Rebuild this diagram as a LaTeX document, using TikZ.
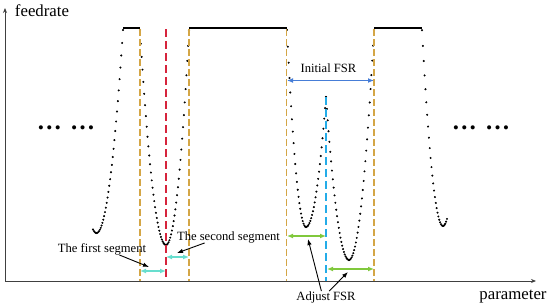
\documentclass[tikz,border=0pt]{standalone}
\usepackage{fontspec}
\setmainfont{Liberation Serif}
\usepackage{tikz}
\usetikzlibrary{arrows.meta}
\definecolor{fsrgold}{RGB}{212,166,70}
\definecolor{midred}{RGB}{214,36,60}
\definecolor{adjcyan}{RGB}{36,172,232}
\definecolor{initblue}{RGB}{70,125,215}
\definecolor{segaqua}{RGB}{104,222,206}
\definecolor{adjgreen}{RGB}{128,200,60}
\tikzstyle{axis} = [draw=black!75, line width=0.9pt, -{Stealth[length=5pt,width=4pt]}]
\tikzstyle{axislbl} = [inner sep=0pt, font=\fontsize{16.8}{18}\selectfont]
\tikzstyle{lbl} = [inner sep=0pt, font=\fontsize{12.6}{14}\selectfont]
\tikzstyle{more} = [inner sep=0pt, font=\fontsize{25}{25}\selectfont\bfseries]
\tikzstyle{flat} = [line width=1.8pt]
\tikzstyle{profile} = [only marks, mark=*, mark size=0.8pt]
\tikzstyle{fsrline} = [draw=fsrgold, line width=1.3pt, dash pattern=on 7pt off 3pt]
\tikzstyle{midline} = [draw=midred, line width=1.2pt, dash pattern=on 8pt off 4pt]
\tikzstyle{adjline} = [draw=adjcyan, line width=1.2pt, dash pattern=on 8pt off 4pt]
\tikzstyle{span} = [line width=1.4pt, {Latex[length=6pt,width=5pt]}-{Latex[length=6pt,width=5pt]}]
\tikzstyle{pointer} = [line width=0.9pt, -{Latex[length=6pt,width=4.5pt]}]
\begin{document}
\begin{tikzpicture}[x=1pt, y=-1pt]
  \useasboundingbox (0,0) rectangle (550,308);

  % axes
  \coordinate (origin) at (5,281);
  \coordinate (ytop) at (5,8);
  \coordinate (xend) at (536,281);
  \draw[axis] (origin) -- (ytop);
  \draw[axis] (origin) -- (xend);
  \node (ylbl) [axislbl] at (42,11) {feedrate};
  \node (xlbl) [axislbl] at (513,297) {parameter};

  % flat tops and dotted profile
  \foreach \a/\b in {123/140, 189/287, 374/422}
    \draw[flat] (\a,28) -- (\b,28);
  \foreach \a/\b/\m/\v/\k/\n in {93/123/96.5/233/0.289/36, 140/166/166/245/0.318/32,
      166/189/166/245/0.406/28, 287/306/306/227/0.546/24, 306/326/306/227/0.325/24,
      326/349/349/260/0.308/28, 349/374/349/260/0.368/30, 422/447/443/226/0.444/30}
    \draw[profile] plot[domain=\a:\b, samples=\n] (\x, {\v-\k*(\x-\m)^2});

  \node (lmore) [more] at (66,128) {…\hspace{0.33em}…};
  \node (rmore) [more] at (481,128) {…\hspace{0.33em}…};

  % segment boundaries
  \foreach \p in {140, 189, 286.5, 374}
    \draw[fsrline] (\p,29) -- (\p,281);
  \draw[midline] (166,29) -- (166,279);
  \draw[adjline] (326,97) -- (326,281);

  % spans
  \draw[span, initblue] (287,80.5) -- (374,80.5);
  \draw[span, segaqua] (140,271) -- (166,271);
  \draw[span, segaqua] (166,257) -- (189,257);
  \draw[span, adjgreen] (287,236) -- (326,236);
  \draw[span, adjgreen] (327,269) -- (374,269);

  % labels
  \node (init) [lbl] at (328.5,68) {Initial FSR};
  \node (first) [lbl] at (102,249) {The first segment};
  \node (second) [lbl] at (228.5,237) {The second segment};
  \node (adjust) [lbl] at (326,297) {Adjust FSR};

  \coordinate (firsttip) at (149,267);
  \coordinate (secondtip) at (177,253);
  \coordinate (adjtipa) at (308,239);
  \coordinate (adjtipb) at (348,272);
  \draw[pointer] (first.-19) -- (firsttip);
  \draw[pointer] (second.-166) -- (secondtip);
  \draw[pointer] (adjust.128) -- (adjtipa);
  \draw[pointer] (adjust.62) -- (adjtipb);
\end{tikzpicture}
\end{document}
